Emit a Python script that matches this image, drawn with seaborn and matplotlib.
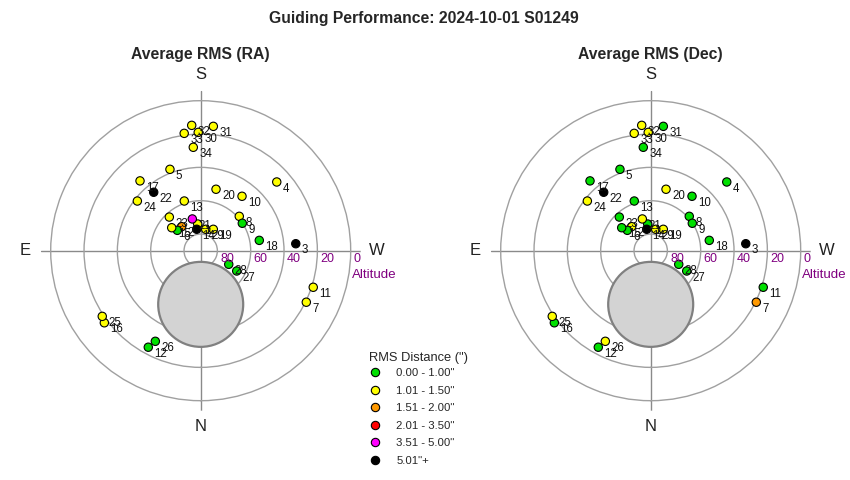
import numpy as np
import pandas as pd
import matplotlib
matplotlib.use("Agg")
import matplotlib.pyplot as plt
import seaborn as sns
from matplotlib.lines import Line2D
from matplotlib.patches import Circle

# ---------------- data ----------------
frame_ids = list(range(1, 35))
altitude = [73.9, 71.6, 32.8, 28.5, 37.8, 71.4, 19.5, 59.0, 60.1, 49.0,
            19.0, 24.1, 58.6, 76.9, 67.8, 17.8, 34.5, 54.3, 75.1, 52.0,
            70.3, 45.0, 62.4, 41.7, 19.0, 29.2, 65.2, 71.3, 76.8, 19.0,
            15.0, 14.6, 18.9, 27.8]
azimuth = [173.6, 141.6, 265.8, 227.9, 159.3, 131.1, 296.0, 228.3, 236.6, 217.2,
           288.0, 28.5, 161.7, 169.4, 128.4, 53.2, 139.0, 260.0, 210.5, 194.0,
           165.2, 141.2, 137.0, 128.1, 56.3, 26.6, 299.4, 295.9, 193.2, 178.8,
           185.8, 175.9, 172.0, 175.9]
# index into rms_classes
ra_class = [1, 2, 5, 1, 1, 0, 1, 1, 0, 1,
            1, 0, 1, 5, 1, 1, 1, 0, 1, 1,
            4, 5, 1, 1, 1, 0, 0, 0, 1, 1,
            1, 1, 1, 1]
dec_class = [0, 1, 5, 0, 0, 0, 2, 0, 0, 0,
             0, 0, 0, 5, 0, 0, 0, 0, 1, 1,
             1, 5, 0, 1, 1, 1, 0, 0, 1, 1,
             0, 1, 1, 0]
rms_classes = ['0.00 - 1.00"', '1.01 - 1.50"', '1.51 - 2.00"',
               '2.01 - 3.50"', '3.51 - 5.00"', '5.01"+']
class_colors = ['#00E000', '#FFFF00', '#FF9900', '#FF0000', '#FF00FF', '#000000']
alt_ticks = [80, 60, 40, 20, 0]
panel_titles = ['Average RMS (RA)', 'Average RMS (Dec)']
directions = [('N', 0), ('E', 90), ('S', 180), ('W', 270)]
# pier / obstruction disk (alt, az, angular radius)
disk_alt, disk_az, disk_radius = 57.8, 0.0, 25.5

# ---------------- style ----------------
sns.set_theme(style="white")
plt.rcParams['font.family'] = ['Liberation Sans', 'DejaVu Sans']

fig = plt.figure(figsize=(8.5, 4.8), dpi=100)
RMAX = 96.0
W_FRAC, H_FRAC = 320 / 850, 320 / 480
lefts = [40.7 / 850, 490.7 / 850]
bottom = (480 - 410.7) / 480

palette = dict(zip(rms_classes, class_colors))

for k, cls in enumerate([ra_class, dec_class]):
    ax = fig.add_axes([lefts[k], bottom, W_FRAC, H_FRAC], projection='polar')
    ax.set_theta_zero_location('S')
    ax.set_theta_direction(-1)
    ax.set_ylim(0, RMAX)
    ax.set_axisbelow(True)
    ax.set_yticks([90 - a for a in alt_ticks])
    ax.set_yticklabels([])
    ax.set_xticks(np.radians([d for _, d in directions]))
    ax.set_xticklabels([])
    ax.yaxis.grid(True, color='#a0a0a0', lw=1.0)
    ax.xaxis.grid(True, color='#8a8a8a', lw=1.0)
    ax.spines['polar'].set_visible(False)
    ax.set_facecolor('none')

    df = pd.DataFrame({
        'theta': np.radians(azimuth),
        'zen': 90 - np.array(altitude),
        'rms': [rms_classes[c] for c in cls],
        'id': frame_ids,
    })

    # obstruction disk
    cx, cy = ax.transAxes.inverted().transform(
        ax.transData.transform((np.radians(disk_az), 90 - disk_alt)))
    ax.add_patch(Circle((cx, cy), 0.5 * disk_radius / RMAX, transform=ax.transAxes,
                        facecolor='#d3d3d3', edgecolor='#808080', lw=1.6, zorder=1.5))

    sns.scatterplot(data=df, x='theta', y='zen', hue='rms', hue_order=rms_classes,
                    palette=palette, s=36, edgecolor='black', linewidth=0.8,
                    legend=False, ax=ax, zorder=3)
    ax.set_xlabel('')
    ax.set_ylabel('')

    for _, row in df.iterrows():
        ax.annotate(str(row['id']), (row['theta'], row['zen']), xytext=(4.3, -4.8),
                    textcoords='offset points', ha='left', va='center',
                    fontsize=8.3, color='#111111', zorder=4)

    for a in alt_ticks:
        ax.annotate(str(a), (np.radians(270), 90 - a), xytext=(2, -1.6),
                    textcoords='offset points', ha='left', va='top',
                    fontsize=9, color='#800080', annotation_clip=False)
    ax.annotate('Altitude', (np.radians(270), 90), xytext=(1.0, -13.0),
                textcoords='offset points', ha='left', va='top',
                fontsize=9.6, color='#800080', annotation_clip=False)

    for lab, d in directions:
        ax.text(np.radians(d), 105.5, lab, ha='center', va='center',
                fontsize=12, color='#222222', clip_on=False)

    ax.text(0.5, (410.7 - 55) / 320, panel_titles[k], transform=ax.transAxes,
            ha='center', va='center', fontsize=11.3, fontweight='bold')

fig.suptitle('Guiding Performance: 2024-10-01 S01249', x=424 / 850, y=1 - 19 / 480,
             va='center', fontsize=11.3, fontweight='bold')

handles = [Line2D([], [], marker='o', ls='', markerfacecolor=c, markeredgecolor='black',
                  markeredgewidth=0.8, markersize=6) for c in class_colors]
leg = fig.legend(handles, rms_classes, title='RMS Distance (")', loc='upper left',
                 bbox_to_anchor=(369 / 850, 1 - 352 / 480), frameon=False,
                 fontsize=8.2, title_fontsize=9.3, handlelength=1.0, handletextpad=1.4,
                 labelspacing=0.66, borderpad=0, borderaxespad=0, alignment='left')
leg._legend_box.sep = 3

fig.savefig('out.png', dpi=100)
